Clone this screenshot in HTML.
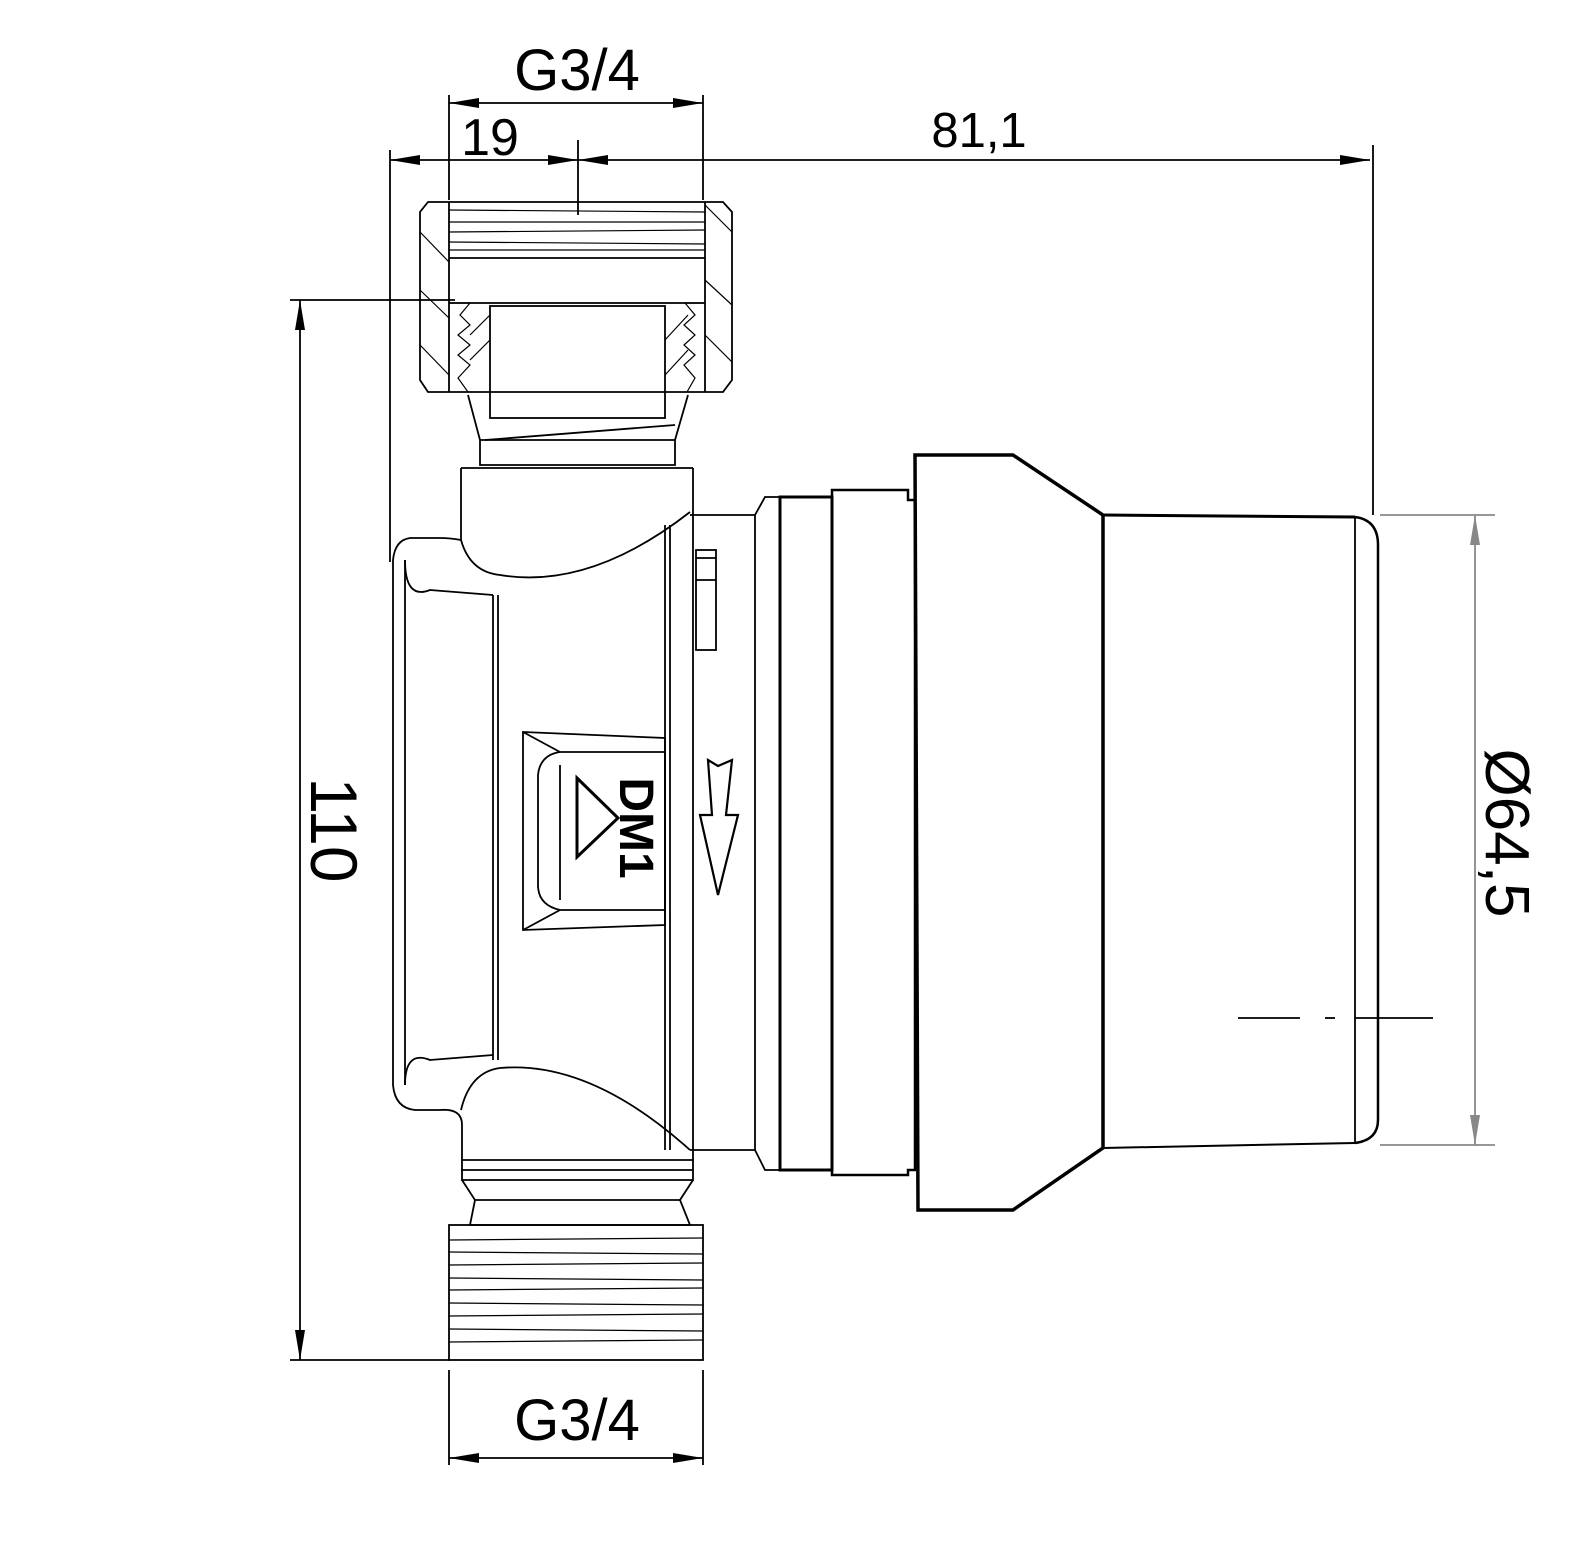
<!DOCTYPE html>
<html><head><meta charset="utf-8"><style>
html,body{margin:0;padding:0;background:#fff}
svg{display:block}
text{font-family:"Liberation Sans",sans-serif;fill:#000}
</style></head><body>
<svg width="1575" height="1547" viewBox="0 0 1575 1547" xmlns="http://www.w3.org/2000/svg">
<defs>
<marker id="a" viewBox="0 0 30 10" refX="30" refY="5" markerWidth="30" markerHeight="10" markerUnits="userSpaceOnUse" orient="auto-start-reverse">
<path d="M0,0 L30,5 L0,10 z" fill="#000"/></marker>
<marker id="g" viewBox="0 0 30 10" refX="30" refY="5" markerWidth="30" markerHeight="10" markerUnits="userSpaceOnUse" orient="auto-start-reverse">
<path d="M0,0 L30,5 L0,10 z" fill="#888"/></marker>
</defs>
<g stroke="#000" stroke-width="1.8" fill="none">
<line x1="449" y1="95" x2="449" y2="200"/>
<line x1="703" y1="95" x2="703" y2="200"/>
<line x1="449" y1="103" x2="703" y2="103" marker-start="url(#a)" marker-end="url(#a)"/>
<line x1="390" y1="150" x2="390" y2="562"/>
<line x1="390" y1="160" x2="578" y2="160" marker-start="url(#a)" marker-end="url(#a)"/>
<line x1="578" y1="160" x2="1370" y2="160" marker-start="url(#a)" marker-end="url(#a)"/>
<line x1="578" y1="140" x2="578" y2="215"/>
<line x1="1373" y1="145" x2="1373" y2="515"/>
<line x1="290" y1="300" x2="455" y2="300"/>
<line x1="290" y1="1360" x2="450" y2="1360"/>
<line x1="300" y1="300" x2="300" y2="1360" marker-start="url(#a)" marker-end="url(#a)"/>
<line x1="449" y1="1370" x2="449" y2="1465"/>
<line x1="703" y1="1370" x2="703" y2="1465"/>
<line x1="449" y1="1458" x2="703" y2="1458" marker-start="url(#a)" marker-end="url(#a)"/>
<g stroke="#888"><line x1="1380" y1="515" x2="1495" y2="515"/><line x1="1380" y1="1145" x2="1495" y2="1145"/>
<line x1="1475" y1="515" x2="1475" y2="1145" marker-start="url(#g)" marker-end="url(#g)"/></g>
<line x1="1238" y1="1018" x2="1300" y2="1018"/><line x1="1325" y1="1018" x2="1335" y2="1018"/><line x1="1355" y1="1018" x2="1433" y2="1018"/>

<path d="M428,202 L723,202 L732,212 L732,380 L723,392 L428,392 L420,380 L420,212 Z"/>
<line x1="449" y1="202" x2="449" y2="392"/><line x1="705" y1="202" x2="705" y2="392"/>
<line x1="449" y1="258" x2="705" y2="258"/>
<g stroke-width="1.2"><line x1="449" y1="210" x2="705" y2="212"/><line x1="449" y1="222" x2="705" y2="222"/><line x1="449" y1="232" x2="705" y2="230"/><line x1="449" y1="242" x2="705" y2="244"/><line x1="449" y1="250" x2="705" y2="250"/>
<line x1="420" y1="232" x2="449" y2="262"/><line x1="420" y1="290" x2="449" y2="318"/><line x1="420" y1="345" x2="449" y2="375"/>
<line x1="705" y1="205" x2="732" y2="232"/><line x1="705" y1="280" x2="732" y2="305"/><line x1="705" y1="335" x2="732" y2="362"/>
<path d="M449,303 L470,303 L460,315 L470,325 L458,335 L470,345 L458,355 L470,365 L458,378 L468,392"/>
<path d="M703,303 L685,303 L695,315 L684,325 L695,335 L684,345 L695,355 L684,365 L695,378 L687,392"/>
<line x1="470" y1="360" x2="490" y2="340"/><line x1="470" y1="335" x2="490" y2="315"/><line x1="665" y1="340" x2="688" y2="315"/><line x1="665" y1="375" x2="688" y2="350"/></g>
<line x1="449" y1="303" x2="705" y2="303"/>
<rect x="490" y="306" width="175" height="112"/>
<path d="M468,395 L480,440 L480,465 L675,465 L675,440 L688,395"/>
<line x1="480" y1="440" x2="675" y2="440"/><line x1="485" y1="440" x2="675" y2="425"/>
<line x1="461" y1="468" x2="693" y2="468"/>
<path d="M461,468 L461,540 Q450,538 440,538 L410,538 Q395,540 393,560 L393,1085 Q395,1108 415,1110 L440,1110 Q462,1108 462,1125 L462,1180 L693,1180 L693,468"/>
<path d="M461,540 Q470,572 500,575 Q590,590 690,512" />
<path d="M461,1110 Q470,1072 500,1068 Q590,1060 690,1150"/>
<path d="M405,560 Q405,600 430,590 L493,595"/>
<path d="M405,1085 Q405,1050 430,1060 L493,1055"/>
<line x1="405" y1="560" x2="405" y2="1085"/>
<line x1="493" y1="595" x2="493" y2="1060"/><line x1="498" y1="595" x2="498" y2="1060"/>
<line x1="665" y1="525" x2="665" y2="1150"/><line x1="670" y1="525" x2="670" y2="1150"/>
<line x1="461" y1="1160" x2="693" y2="1160"/><line x1="461" y1="1170" x2="693" y2="1170"/>
<path d="M462,1180 L475,1200 L470,1225 L690,1225 L680,1200 L693,1180"/>
<line x1="475" y1="1200" x2="680" y2="1200"/>
<rect x="449" y="1225" width="254" height="135"/>
<g stroke-width="1.2">
<line x1="449" y1="1240" x2="703" y2="1238"/><line x1="449" y1="1252" x2="703" y2="1254"/><line x1="449" y1="1265" x2="703" y2="1263"/><line x1="449" y1="1278" x2="703" y2="1280"/><line x1="449" y1="1290" x2="703" y2="1288"/><line x1="449" y1="1303" x2="703" y2="1305"/><line x1="449" y1="1316" x2="703" y2="1314"/><line x1="449" y1="1329" x2="703" y2="1331"/><line x1="449" y1="1342" x2="703" y2="1340"/></g>
<path d="M523,732 L665,738 L665,925 L523,930 Z"/>
<path d="M560,752 L665,752 L665,910 L560,910 Q538,905 538,885 L538,775 Q540,755 560,752 Z"/>
<line x1="523" y1="732" x2="560" y2="752"/><line x1="523" y1="930" x2="560" y2="910"/>
<line x1="560" y1="765" x2="560" y2="900"/>
<path d="M577,778 L618,818 L577,857 Z" stroke-width="3"/>
<path d="M708,760 L718,766 L732,760 L726,815 L738,815 L718,895 L700,815 L712,815 Z" stroke-width="2.2"/>
<rect x="696" y="550" width="20" height="100"/><line x1="696" y1="558" x2="716" y2="558"/><line x1="696" y1="580" x2="716" y2="580"/>
<line x1="690" y1="515" x2="755" y2="515"/><line x1="690" y1="1150" x2="755" y2="1150"/>
<line x1="755" y1="515" x2="755" y2="1150"/>
<path d="M755,515 L765,497 L780,497 L780,1170 L765,1170 L755,1150"/>
<rect x="780" y="497" width="52" height="673" stroke-width="3"/>
<path d="M832,490 L908,490 L908,500 L915,500 L915,1170 L908,1170 L908,1175 L832,1175 Z" stroke-width="2.5"/>
<path d="M915,455 L1013,455 L1103,515 L1103,1148 L1013,1210 L918,1210 Z" stroke-width="3.5"/>
<line x1="1103" y1="515" x2="1355" y2="517" stroke-width="3"/>
<line x1="1103" y1="1148" x2="1355" y2="1143" stroke-width="2"/>
<path d="M1355,517 Q1378,520 1378,545 L1378,1120 Q1378,1140 1355,1143" stroke-width="2.5"/>
<line x1="1355" y1="517" x2="1355" y2="1143"/>
</g>
<text x="577" y="90" font-size="58" text-anchor="middle">G3/4</text>
<text x="490" y="155" font-size="52" text-anchor="middle">19</text>
<text x="979" y="147" font-size="49" text-anchor="middle">81,1</text>
<text x="577" y="1440" font-size="58" text-anchor="middle">G3/4</text>
<text transform="translate(311,830) rotate(90)" font-size="66" text-anchor="middle">110</text>
<text transform="translate(1486,833) rotate(90)" font-size="62" text-anchor="middle">Ø64,5</text>
<text transform="translate(620,828) rotate(90)" font-size="48" font-weight="bold" text-anchor="middle">DM1</text>
</svg>
</body></html>
